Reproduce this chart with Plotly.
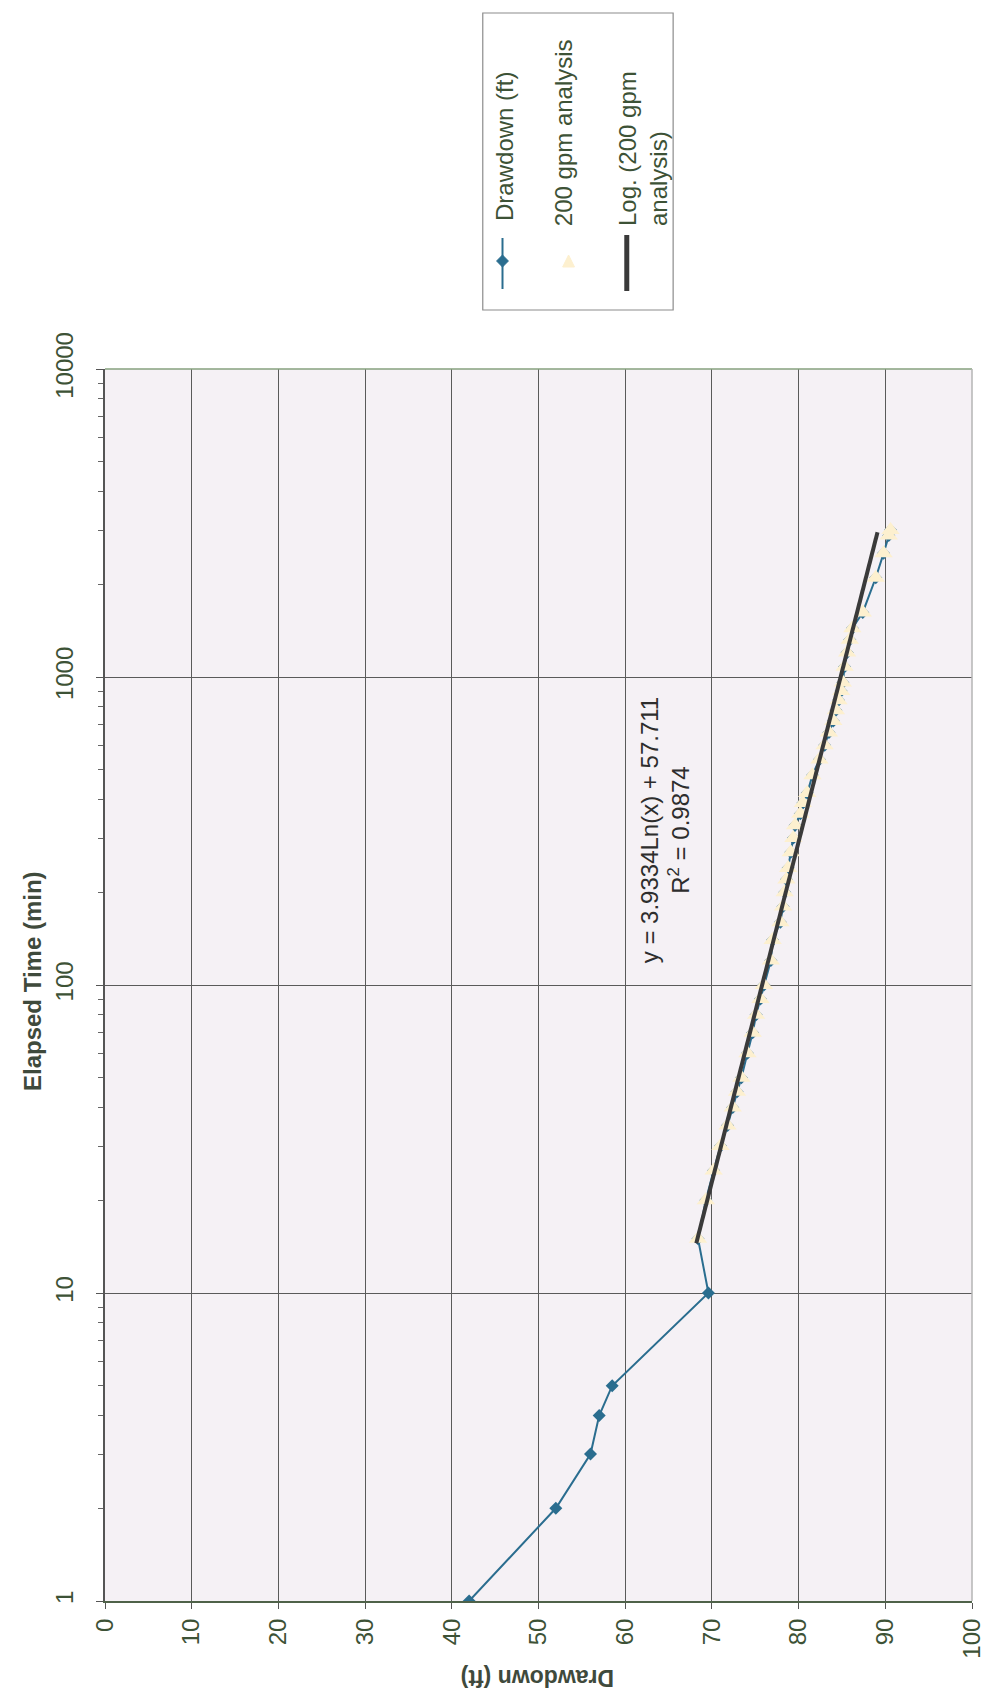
import plotly.graph_objects as go

# elapsed time (min) and drawdown (ft)
time_early = [1, 2, 3, 4, 5, 10]
dd_early = [42.0, 52.0, 56.0, 57.0, 58.5, 69.6]

time_analysis = [15, 20, 25, 30, 35, 40, 45, 50, 60, 70, 80, 90, 100, 120, 140, 160,
                 180, 200, 220, 240, 270, 300, 330, 360, 390, 420, 480, 540, 600, 660,
                 720, 780, 840, 900, 960, 1080, 1200, 1320, 1440, 1620, 2100, 2520,
                 2880, 3000]
dd_analysis = [68.4, 69.3, 70.2, 71.0, 71.8, 72.4, 72.9, 73.4, 74.1, 74.7, 75.1, 75.6,
               76.0, 76.8, 77.0, 77.9, 78.2, 78.4, 78.6, 78.8, 79.1, 79.4, 79.6, 80.2,
               80.5, 81.0, 81.6, 82.4, 83.0, 83.5, 84.0, 84.3, 84.6, 84.9, 85.1, 85.3,
               85.6, 85.9, 86.2, 87.4, 88.9, 89.8, 90.4, 90.6]

# log trend end points (y = 3.9334Ln(x) + 57.711)
trend_time = [14.5, 2950]
trend_dd = [68.2, 89.1]

time_ticks = [1, 10, 100, 1000, 10000]
time_minor = [m * 10 ** k for k in range(4) for m in range(2, 10)]
dd_ticks = list(range(0, 101, 10))

BLUE = "#2a6d8f"
CREAM = "#fdf0cf"
TXT = "#3d5236"

W, H = 989, 1701
L, R, T, B = 97, 976, 361, 1593


def px(x):
    return (x - L) / (R - L)


def py(y):
    return (B - y) / (B - T)


fig = go.Figure()
fig.add_trace(go.Scatter(x=dd_early + dd_analysis, y=time_early + time_analysis,
                         mode="lines+markers", line=dict(color=BLUE, width=2),
                         marker=dict(symbol="diamond", size=10, color=BLUE),
                         name="Drawdown (ft)"))
fig.add_trace(go.Scatter(x=dd_analysis, y=time_analysis, mode="markers",
                         marker=dict(symbol="triangle-up", size=16, color=CREAM),
                         name="200 gpm analysis"))
fig.add_trace(go.Scatter(x=trend_dd, y=trend_time, mode="lines",
                         line=dict(color="#3a3a3a", width=4),
                         name="Log. (200 gpm analysis)"))

font_tick = dict(family="Liberation Sans, Arial, sans-serif", size=24, color=TXT)

fig.update_layout(
    width=W, height=H,
    margin=dict(l=L, r=W - R, t=T, b=H - B),
    paper_bgcolor="white",
    plot_bgcolor="#f5f1f5",
    showlegend=False,
    xaxis=dict(range=[0, 100], tickvals=dd_ticks, tickangle=-90, tickfont=font_tick,
               showgrid=True, gridcolor="#5a5a5a", gridwidth=1,
               showline=True, linecolor="#4f6249", linewidth=2,
               ticks="outside", ticklen=6, tickcolor="#555", zeroline=False),
    yaxis=dict(type="log", range=[0, 4], tickvals=time_ticks,
               ticktext=[str(v) for v in time_ticks], tickangle=-90, tickfont=font_tick,
               ticklabelstandoff=14,
               showgrid=True, gridcolor="#5a5a5a", gridwidth=1,
               showline=True, linecolor="#555", linewidth=1.5,
               ticks="outside", ticklen=7, tickcolor="#555",
               minor=dict(tickvals=time_minor, ticks="outside", ticklen=5,
                          tickcolor="#666", showgrid=False)),
)

# plot border (top and right)
fig.add_shape(type="line", xref="paper", yref="paper", x0=0, x1=1, y0=1, y1=1,
              line=dict(color="#86a07e", width=1.5))
fig.add_shape(type="line", xref="paper", yref="paper", x0=1, x1=1, y0=0, y1=1,
              line=dict(color="#b5b5b5", width=1.5))

# axis titles
fig.add_annotation(text="<b>Elapsed Time (min)</b>", xref="paper", yref="paper",
                   x=px(23), y=py(973), xanchor="center", yanchor="middle",
                   textangle=-90, showarrow=False,
                   font=dict(family="Liberation Sans, Arial", size=24, color="#3f4a3c"))
fig.add_annotation(text="<b>Drawdown (ft)</b>", xref="paper", yref="paper",
                   x=px(536), y=py(1670), xanchor="center", yanchor="middle",
                   textangle=180, showarrow=False,
                   font=dict(family="Liberation Sans, Arial", size=23, color="#3f4a3c"))

# trend equation
fig.add_annotation(text="y = 3.9334Ln(x) + 57.711<br>R<sup>2</sup> = 0.9874",
                   xref="paper", yref="paper", x=px(665), y=py(822),
                   xanchor="center", yanchor="middle", textangle=-90,
                   showarrow=False,
                   font=dict(family="Liberation Sans, Arial", size=24, color="#2d2d2d"))

# legend, drawn rotated like the scan
fig.add_shape(type="rect", xref="paper", yref="paper", x0=px(480), x1=px(673),
              y0=py(302), y1=py(5), line=dict(color="#8c8c8c", width=1.2),
              fillcolor="white")
fig.add_shape(type="line", xref="paper", yref="paper", x0=px(500), x1=px(500),
              y0=py(230), y1=py(281), line=dict(color=BLUE, width=2))
d = 6
fig.add_shape(type="path", xref="paper", yref="paper",
              path=f"M {px(500)},{py(253 - d)} L {px(500 + d)},{py(253)} "
                   f"L {px(500)},{py(253 + d)} L {px(500 - d)},{py(253)} Z",
              fillcolor=BLUE, line=dict(color=BLUE, width=1))
fig.add_shape(type="path", xref="paper", yref="paper",
              path=f"M {px(567)},{py(247)} L {px(573)},{py(259)} L {px(561)},{py(259)} Z",
              fillcolor=CREAM, line=dict(color=CREAM, width=1))
fig.add_shape(type="line", xref="paper", yref="paper", x0=px(626), x1=px(626),
              y0=py(227), y1=py(283), line=dict(color="#3a3a3a", width=5))

leg_font = dict(family="Liberation Sans, Arial", size=24, color=TXT)
fig.add_annotation(text="Drawdown (ft)", xref="paper", yref="paper", x=px(502),
                   y=py(215), xanchor="center", yanchor="bottom", textangle=-90,
                   showarrow=False, font=leg_font)
fig.add_annotation(text="200 gpm analysis", xref="paper", yref="paper", x=px(562),
                   y=py(220), xanchor="center", yanchor="bottom", textangle=-90,
                   showarrow=False, font=leg_font)
fig.add_annotation(text="Log. (200 gpm<br>analysis)", xref="paper", yref="paper",
                   x=px(643), y=py(220), xanchor="center", yanchor="bottom",
                   textangle=-90, align="left", showarrow=False, font=leg_font)

fig.write_html("out.html")
